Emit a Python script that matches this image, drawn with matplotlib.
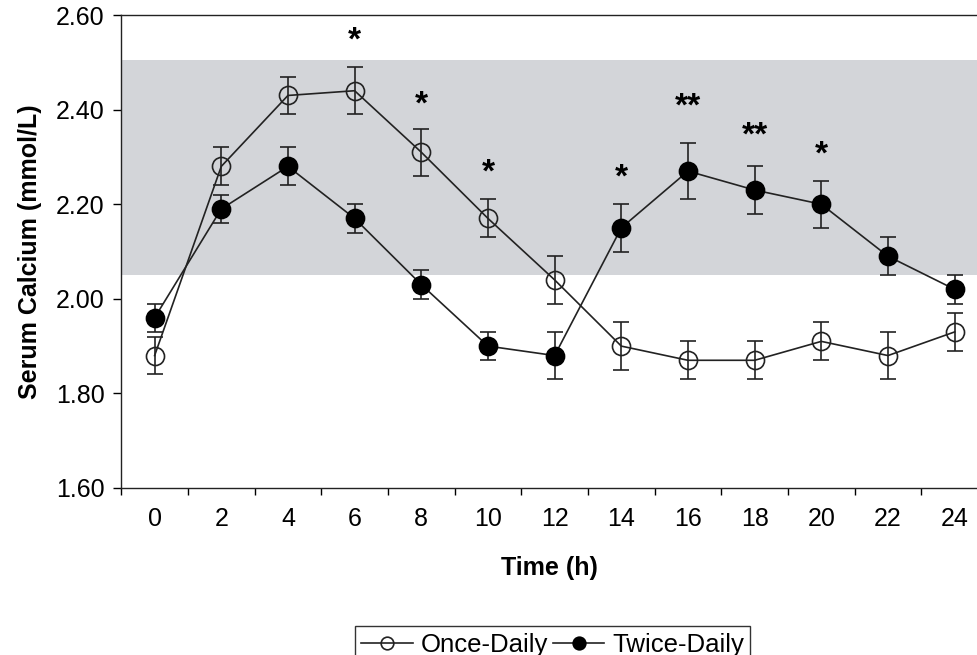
import matplotlib.pyplot as plt
import numpy as np

plt.rcParams["font.family"] = ["Liberation Sans", "DejaVu Sans"]

hours = [0, 2, 4, 6, 8, 10, 12, 14, 16, 18, 20, 22, 24]
once_daily = [1.88, 2.28, 2.43, 2.44, 2.31, 2.17, 2.04, 1.90, 1.87, 1.87, 1.91, 1.88, 1.93]
once_err = [0.04, 0.04, 0.04, 0.05, 0.05, 0.04, 0.05, 0.05, 0.04, 0.04, 0.04, 0.05, 0.04]
twice_daily = [1.96, 2.19, 2.28, 2.17, 2.03, 1.90, 1.88, 2.15, 2.27, 2.23, 2.20, 2.09, 2.02]
twice_err = [0.03, 0.03, 0.04, 0.03, 0.03, 0.03, 0.05, 0.05, 0.06, 0.05, 0.05, 0.04, 0.03]

normal_range = (2.05, 2.505)

star_hours = [6, 8, 10, 14, 16, 18, 20]
star_labels = ["*", "*", "*", "*", "**", "**", "*"]
star_y = [2.545, 2.41, 2.265, 2.255, 2.405, 2.345, 2.305]

fig = plt.figure(figsize=(9.78, 6.55), dpi=100)
ax = fig.add_axes([0.124, 0.255, 0.876, 0.722])

ax.axhspan(*normal_range, color="#d3d5d9", lw=0, zorder=0)

ax.errorbar(hours, once_daily, yerr=once_err, color="#222222", lw=1.2,
            marker="o", ms=13, mfc="none", mec="#222222", mew=1.2,
            capsize=5.5, elinewidth=1.2, capthick=1.2, label="Once-Daily", zorder=3)
ax.errorbar(hours, twice_daily, yerr=twice_err, color="#222222", lw=1.2,
            marker="o", ms=13, mfc="black", mec="black", mew=1.2,
            capsize=5.5, elinewidth=1.2, capthick=1.2, label="Twice-Daily", zorder=4)

for h, s, y in zip(star_hours, star_labels, star_y):
    ax.text(h, y, s, ha="center", va="center", fontsize=24, fontweight="bold")

ax.set_xlim(-1, 24.7)
ax.set_ylim(1.60, 2.60)
ax.set_xticks(hours)
ax.set_xticks(np.arange(-1, 25, 2), minor=True)
ax.tick_params(axis="x", which="major", length=0, pad=14, labelsize=18)
ax.tick_params(axis="x", which="minor", length=5, direction="out", width=1)
ax.set_yticks(np.arange(1.6, 2.61, 0.2))
ax.set_yticklabels([f"{v:.2f}" for v in np.arange(1.6, 2.61, 0.2)])
ax.tick_params(axis="y", length=6, width=1, labelsize=18, pad=6)

ax.spines["right"].set_visible(False)
for s in ["left", "bottom", "top"]:
    ax.spines[s].set_linewidth(1.0)
    ax.spines[s].set_color("#222222")

ax.set_xlabel("Time (h)", fontsize=18, fontweight="bold", labelpad=18)
ax.set_ylabel("Serum Calcium (mmol/L)", fontsize=18, fontweight="bold", labelpad=10)

handles, labels = ax.get_legend_handles_labels()
handles = [h[0] for h in handles]
leg = fig.legend(handles, labels, loc="lower center", bbox_to_anchor=(0.565, -0.032),
                 ncol=2, fontsize=18.5, frameon=True, fancybox=False, edgecolor="black",
                 handlelength=2.0, handletextpad=0.3, columnspacing=0.2,
                 borderpad=0.25, markerscale=0.7)
leg.get_frame().set_linewidth(1.0)

fig.savefig("out.png", dpi=100)
